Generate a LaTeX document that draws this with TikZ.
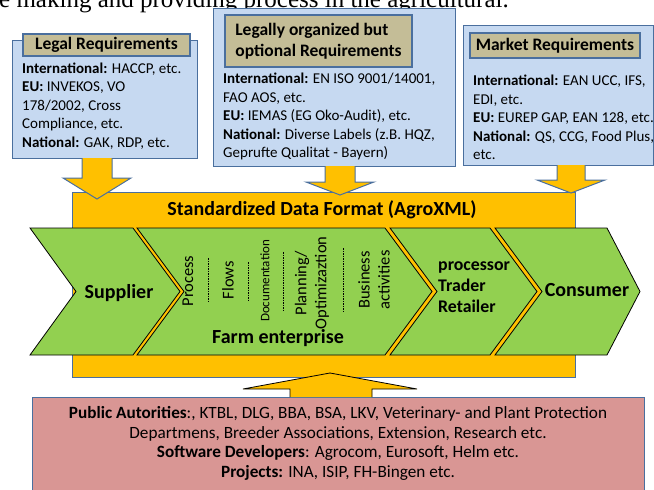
\documentclass[tikz,border=0pt]{standalone}
\usepackage{fontspec}
\setmainfont{Carlito}
\newfontfamily\captionfont{Liberation Serif}
\definecolor{reqblue}{HTML}{C6D9F1}
\definecolor{reqedge}{HTML}{4A6F9E}
\definecolor{titletan}{HTML}{C4BD97}
\definecolor{formatyellow}{HTML}{FFC000}
\definecolor{chevgreen}{HTML}{92D050}
\definecolor{sourcepink}{HTML}{D99694}
\tikzset{
  reqbox/.style={draw=reqedge,fill=reqblue,line width=1.2pt,anchor=north west,inner sep=0},
  titlebox/.style={draw=reqedge,fill=titletan,line width=1.2pt,inner sep=0,font=\bfseries\fontsize{17.5}{20.5}\selectfont},
  reqtext/.style={anchor=north west,align=left,inner sep=0,font=\fontsize{15}{18.5}\selectfont},
  formatbox/.style={draw=reqedge,fill=formatyellow,line width=1pt,anchor=north west,inner sep=0},
  srcbox/.style={draw=reqedge,fill=sourcepink,line width=1.2pt,anchor=north west,inner sep=0},
  blockarrow/.style={draw=reqedge,fill=formatyellow,line width=1pt,line join=miter},
  uparrow/.style={draw=black,fill=formatyellow,line width=0.8pt,line join=miter},
  chevron/.style={draw=black,fill=chevgreen,line width=0.8pt,line join=miter},
  steplabel/.style={inner sep=0,font=\bfseries\fontsize{20}{21}\selectfont},
  sidelabel/.style={rotate=90,inner sep=0,align=center,font=\fontsize{16.5}{20}\selectfont},
  sepline/.style={draw=black,dash pattern=on 1.5pt off 1pt,line width=0.6pt}
}
\begin{document}
\begin{tikzpicture}[x=1pt,y=-1pt]
\useasboundingbox (0,0) rectangle (654,490);
\clip (0,0) rectangle (654,490);
\node[anchor=base west,inner sep=0,font=\captionfont\fontsize{25}{28}\selectfont] (caption) at (-1,7) {e making and providing process in the agricultural.};

\node[formatbox,minimum width=503,minimum height=185] (format) at (72,192) {};
\node[steplabel] (formatlabel) at (322,210) {Standardized Data Format (AgroXML)};

\draw[chevron] (30,228) -- (133,228) -- (180,291.5) -- (133,355) -- (30,355) -- (76,291.5) -- cycle;
\draw[chevron] (137,228) -- (385,228) -- (432,291.5) -- (385,355) -- (137,355) -- (184,291.5) -- cycle;
\draw[chevron] (390,228) -- (490,228) -- (537,291.5) -- (490,355) -- (390,355) -- (437,291.5) -- cycle;
\draw[chevron] (495,228) -- (607,228) -- (640,291.5) -- (607,355) -- (495,355) -- (542,291.5) -- cycle;

\node[steplabel] (supplier) at (119,293) {Supplier};
\node[sidelabel] (process) at (188,281) {Process};
\node[sidelabel] (flows) at (228,280) {Flows};
\node[sidelabel,font=\fontsize{13}{15}\selectfont] (documentation) at (265,281) {Documentation};
\node[sidelabel] (planning) at (312,283) {Planning/\\Optimizaztion};
\node[sidelabel] (business) at (374,280) {Business\\activities};
\draw[sepline] (208,258) -- (208,303);
\draw[sepline] (248,262) -- (248,300);
\draw[sepline] (283,252) -- (283,310);
\draw[sepline] (343,248) -- (343,312);
\node[steplabel] (farm) at (278,338) {Farm enterprise};
\node[steplabel,anchor=west,align=left,font=\bfseries\fontsize{17.8}{21}\selectfont] (trader) at (438,287) {processor\\Trader\\Retailer};
\node[steplabel] (consumer) at (587,290) {Consumer};

\node[reqbox,minimum width=185,minimum height=118] (legal) at (12,40) {};
\node[titlebox,minimum width=167,minimum height=22] (legaltitle) at (106.5,45) {Legal Requirements};
\node[reqtext] (legaltext) at (22,62.5) {\textbf{International:} HACCP, etc.\\\textbf{EU:} INVEKOS, VO\\178/2002, Cross\\Compliance, etc.\\\textbf{National:} GAK, RDP, etc.};

\node[reqbox,minimum width=242,minimum height=158] (optional) at (213,8) {};
\node[titlebox,minimum width=187,minimum height=52,align=left] (optionaltitle) at (318.5,41) {Legally organized but\\optional Requirements};
\node[reqtext] (optionaltext) at (223,73) {\textbf{International:} EN ISO 9001/14001,\\FAO AOS, etc.\\\textbf{EU:} IEMAS (EG Oko-Audit), etc.\\\textbf{National:} Diverse Labels (z.B. HQZ,\\Geprufte Qualitat - Bayern)};

\node[reqbox,minimum width=190,minimum height=140] (market) at (463,25) {};
\node[titlebox,minimum width=170,minimum height=25] (markettitle) at (555,45.5) {Market Requirements};
\node[reqtext] (markettext) at (473,75) {\textbf{International:} EAN UCC, IFS,\\EDI, etc.\\\textbf{EU:} EUREP GAP, EAN 128, etc.\\\textbf{National:} QS, CCG, Food Plus,\\etc.};

\draw[blockarrow] (82,158) -- (82,178) -- (63,178) -- (97,199) -- (131,178) -- (112,178) -- (112,158);
\draw[blockarrow] (325,166) -- (325,182) -- (306,182) -- (340,195) -- (374,182) -- (355,182) -- (355,166);
\draw[blockarrow] (557,165) -- (557,180) -- (537,180) -- (571,193) -- (605,180) -- (585,180) -- (585,165);

\node[srcbox,minimum width=612,minimum height=100] (sources) at (32,397) {};
\draw[uparrow] (290,397) -- (290,389) -- (243,389) -- (330,373) -- (417,389) -- (372,389) -- (372,397);
\node[align=center,inner sep=0,font=\fontsize{17.2}{19.5}\selectfont] (sourcetext) at (338,443.5) {\textbf{Public Autorities}:, KTBL, DLG, BBA, BSA, LKV, Veterinary- and Plant Protection\\Departmens, Breeder Associations, Extension, Research etc.\\\textbf{Software Developers}: Agrocom, Eurosoft, Helm etc.\\\textbf{Projects:} INA, ISIP, FH-Bingen etc.};
\end{tikzpicture}
\end{document}
